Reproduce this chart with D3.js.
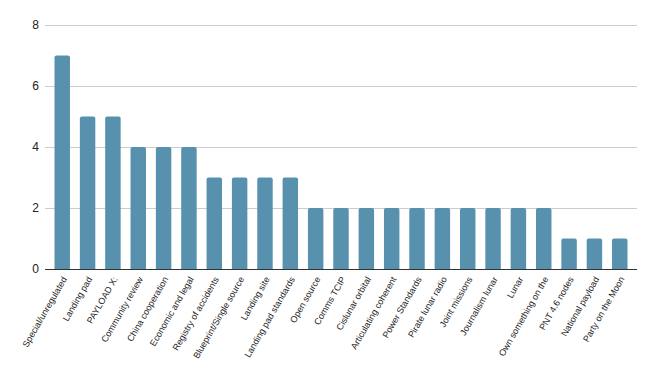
<!DOCTYPE html>
<html>
<head>
<meta charset="utf-8">
<script src="https://cdn.jsdelivr.net/npm/d3@7"></script>
<style>
  body { margin: 0; background: #fff; }
  text { font-family: "Liberation Sans", Arial, sans-serif; }
</style>
</head>
<body>
<div id="chart"></div>
<script>
// Chart data
const categories = [
    "Special/unregulated", "Landing pad", "PAYLOAD X:", "Community review",
    "China cooperation", "Economic and legal", "Registry of accidents",
    "Blueprint/Single source", "Landing site", "Landing pad standards",
    "Open source", "Comms TCIP", "Cislunar orbital", "Articulating coherent",
    "Power Standards", "Pirate lunar radio", "Joint missions", "Journalism lunar",
    "Lunar", "Own something on the", "PNT 4.6 nodes", "National payload",
    "Party on the Moon"
];
const counts = [7, 5, 5, 4, 4, 4, 3, 3, 3, 3, 2, 2, 2, 2, 2, 2, 2, 2, 2, 2, 1, 1, 1];
const yTicks = [0, 2, 4, 6, 8];

const W = 656, H = 378;
const margin = { top: 25, right: 19, bottom: 109, left: 45 };
const width = W - margin.left - margin.right;
const height = H - margin.top - margin.bottom;

const svg = d3.select("#chart").append("svg")
    .attr("width", W)
    .attr("height", H)
    .append("g")
    .attr("transform", `translate(${margin.left},${margin.top})`);

const x = d3.scaleBand()
    .domain(categories)
    .range([0, width])
    .paddingInner(0.39)
    .paddingOuter(0.375);

const y = d3.scaleLinear()
    .domain([0, 8])
    .range([height, 0]);

// Gridlines
svg.append("g")
    .selectAll("line")
    .data(yTicks.filter(d => d > 0))
    .join("line")
    .attr("x1", 0)
    .attr("x2", width)
    .attr("y1", d => y(d))
    .attr("y2", d => y(d))
    .attr("stroke", "#cccccc")
    .attr("stroke-width", 1)
    .attr("shape-rendering", "crispEdges");

// Y axis labels (no axis line)
const yAxis = svg.append("g")
    .call(d3.axisLeft(y).tickValues(yTicks).tickSize(0).tickPadding(6));
yAxis.select(".domain").remove();
yAxis.selectAll("text")
    .style("font-size", "12px")
    .style("fill", "#222");

// Bars with rounded tops
const r = 2;
svg.append("g")
    .selectAll("path")
    .data(counts)
    .join("path")
    .attr("fill", "#5891ad")
    .attr("d", (d, i) => {
        const x0 = x(categories[i]), bw = x.bandwidth();
        const y0 = y(d), yb = y(0);
        return `M${x0},${yb}V${y0 + r}Q${x0},${y0} ${x0 + r},${y0}H${x0 + bw - r}Q${x0 + bw},${y0} ${x0 + bw},${y0 + r}V${yb}Z`;
    });

// Baseline
svg.append("line")
    .attr("x1", 0)
    .attr("x2", width)
    .attr("y1", y(0))
    .attr("y2", y(0))
    .attr("stroke", "#333")
    .attr("stroke-width", 1)
    .attr("shape-rendering", "crispEdges");

// X axis labels, rotated
const xAxis = svg.append("g")
    .attr("transform", `translate(0,${height})`)
    .call(d3.axisBottom(x).tickSize(0));
xAxis.select(".domain").remove();
xAxis.selectAll("text")
    .attr("text-anchor", "end")
    .attr("dy", null)
    .attr("y", 0)
    .attr("transform", "translate(5,10) rotate(-60)")
    .style("font-size", "9px")
    .style("fill", "#222");
</script>
</body>
</html>
